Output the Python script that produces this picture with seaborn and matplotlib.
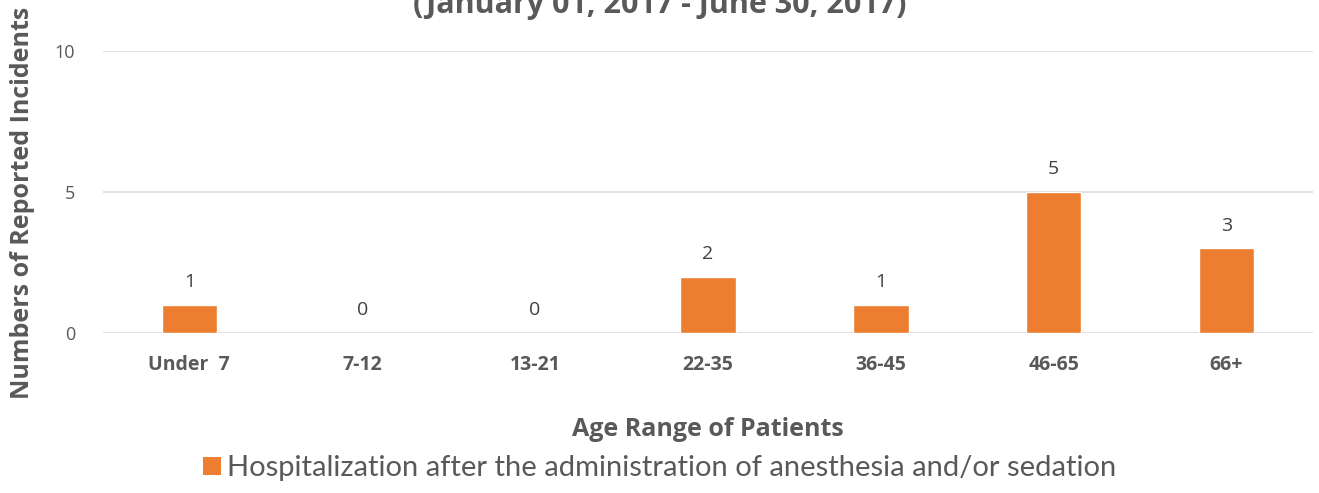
import numpy as np
import pandas as pd
import matplotlib
matplotlib.use('Agg')
import matplotlib.pyplot as plt
import seaborn as sns
from matplotlib.patches import Patch

# chart data
age_ranges = ["Under  7", "7-12", "13-21", "22-35", "36-45", "46-65", "66+"]
incidents = [1, 0, 0, 2, 1, 5, 3]
series_name = "Hospitalization after the administration of anesthesia and/or sedation"
y_ticks = [0, 5, 10]

df = pd.DataFrame({"age": age_ranges, "count": incidents, "series": series_name})

sns.set_style("white")
plt.rcParams['font.family'] = ['Open Sans', 'DejaVu Sans']

orange = "#ED7D31"
txt = "#595959"

fig = plt.figure(figsize=(13.19, 4.93), dpi=100)
ax = fig.add_axes([0.078, 0.3245, 0.9175, 0.572])

sns.barplot(data=df, x="age", y="count", hue="series", palette=[orange],
            width=0.32, ax=ax, legend=False, saturation=1)

ax.set_ylim(0, 10)
ax.set_yticks(y_ticks)
ax.yaxis.grid(True, color="#D9D9D9", linewidth=1.2)
ax.set_axisbelow(True)
for s in ax.spines.values():
    s.set_visible(False)
ax.tick_params(axis='both', length=0)
ax.tick_params(axis='y', labelsize=13, labelcolor=txt, pad=20)
ax.tick_params(axis='x', pad=16)
ax.set_xticks(range(len(age_ranges)))
ax.set_xticklabels(age_ranges, fontsize=14, fontweight='bold', color=txt)

# value labels
for i, v in enumerate(incidents):
    ax.annotate(str(v), (i, v), xytext=(0, 10), textcoords='offset points',
                ha='center', va='bottom', fontsize=14, color="#404040")

ax.set_xlabel("Age Range of Patients", fontsize=18, fontweight='bold',
              color=txt, labelpad=30)
ax.set_ylabel("Numbers of Reported Incidents", fontsize=18, fontweight='bold',
              color=txt)
ax.yaxis.set_label_coords(-0.056, 0.46)

fig.text(0.5, 0.990, "(January 01, 2017 - June 30, 2017)", ha='center', va='center',
         fontsize=22, fontweight='bold', color=txt)

# legend
handles = [Patch(facecolor=orange, edgecolor='none')]
fig.legend(handles, [series_name], loc='center', bbox_to_anchor=(0.5, 0.05),
           frameon=False, handlelength=0.6, handleheight=0.6, handletextpad=0.2,
           prop={'family': ['Lato', 'DejaVu Sans'], 'size': 21},
           labelcolor=txt)

fig.savefig("out.png", dpi=100)
